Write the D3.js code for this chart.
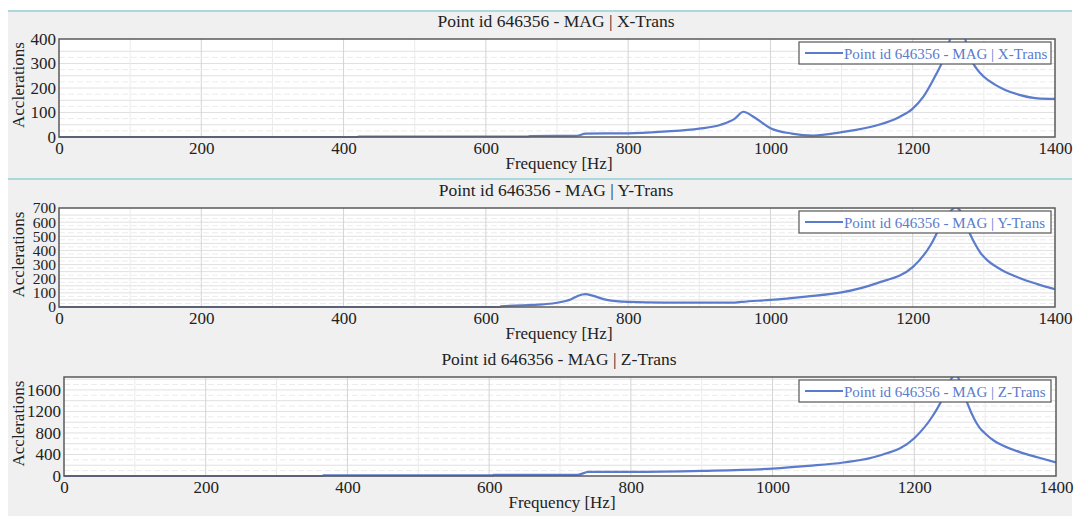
<!DOCTYPE html>
<html lang="en">
<head>
<meta charset="utf-8">
<title>Point id 646356 - MAG</title>
<style>
  body { margin: 0; background: #fff; }
  svg text { font-family: "Liberation Serif", "Times New Roman", serif; fill: #222; }
</style>
</head>
<body>
<script src="https://cdn.jsdelivr.net/npm/d3@7/dist/d3.min.js"></script>
<script>
// data
var xTransFreq = [0, 420, 421, 660, 661, 728, 740, 800, 850, 900, 930, 950, 962, 975, 1000, 1030, 1060, 1100, 1150, 1180, 1200, 1215, 1230, 1245, 1255, 1265, 1272, 1280, 1290, 1300, 1315, 1330, 1350, 1375, 1400];
var xTransVals = [0, 0, 2, 2, 4, 5, 14, 15, 22, 34, 50, 75, 103, 85, 36, 14, 6, 20, 48, 80, 116, 165, 240, 330, 420, 470, 420, 330, 278, 246, 215, 192, 172, 158, 156];

var yTransFreq = [0, 620, 621, 680, 700, 720, 730, 740, 750, 770, 800, 850, 950, 960, 1000, 1050, 1100, 1150, 1200, 1225, 1240, 1252, 1260, 1268, 1275, 1285, 1295, 1305, 1315, 1325, 1350, 1375, 1400];
var yTransVals = [0, 0, 4, 19, 30, 55, 80, 91, 80, 50, 36, 31, 31, 36, 50, 74, 103, 169, 282, 437, 580, 670, 705, 670, 580, 470, 385, 330, 292, 262, 205, 162, 126];

var zTransFreq = [0, 365, 366, 605, 606, 725, 740, 800, 900, 1000, 1050, 1100, 1150, 1200, 1225, 1240, 1250, 1258, 1266, 1275, 1285, 1292, 1300, 1312, 1325, 1350, 1375, 1400];
var zTransVals = [0, 0, 10, 10, 20, 22, 75, 75, 94, 138, 188, 251, 376, 702, 1097, 1442, 1750, 1900, 1700, 1348, 1050, 900, 790, 660, 568, 439, 345, 251];

var xTicks = [0, 200, 400, 600, 800, 1000, 1200, 1400];
var titles = ["Point id 646356 - MAG | X-Trans", "Point id 646356 - MAG | Y-Trans", "Point id 646356 - MAG | Z-Trans"];

var w = 1077, h = 516;
var lineColor = "#5b7bcc";

var panels = [
  {title: titles[0], freq: xTransFreq, vals: xTransVals, yMax: 400, yTicks: [0, 100, 200, 300, 400], gridStep: 50, tickFont: 17,
   left: 59, right: 1055, top: 39, bottom: 137},
  {title: titles[1], freq: yTransFreq, vals: yTransVals, yMax: 700, yTicks: [0, 100, 200, 300, 400, 500, 600, 700], gridStep: 50, tickFont: 15.5,
   left: 59, right: 1055, top: 208, bottom: 307},
  {title: titles[2], freq: zTransFreq, vals: zTransVals, yMax: 1840, yTicks: [0, 400, 800, 1200, 1600], gridStep: 200, tickFont: 17,
   left: 64, right: 1056, top: 377, bottom: 476}
];

var svg = d3.select("body").append("svg").attr("width", w).attr("height", h);

// background
svg.append("rect").attr("x", 8).attr("y", 11).attr("width", 1064).attr("height", h - 11).attr("fill", "#f0f0f0");
svg.append("rect").attr("x", 8).attr("y", 10).attr("width", 1064).attr("height", 2).attr("fill", "#a9d9dd");
svg.append("rect").attr("x", 8).attr("y", 178).attr("width", 1064).attr("height", 2).attr("fill", "#a9d9dd");

panels.forEach(function(p, i) {
  var x = d3.scaleLinear().domain([0, 1400]).range([p.left, p.right]);
  var y = d3.scaleLinear().domain([0, p.yMax]).range([p.bottom, p.top]);
  var g = svg.append("g").attr("id", "panel" + i);
  var cx = (p.left + p.right) / 2;

  // plot area
  g.append("rect").attr("x", p.left).attr("y", p.top)
    .attr("width", p.right - p.left).attr("height", p.bottom - p.top).attr("fill", "#fff");

  // horizontal grid
  var hg = d3.range(p.gridStep, p.yMax, p.gridStep);
  g.append("g").selectAll("line").data(hg).enter().append("line")
    .attr("x1", p.left).attr("x2", p.right)
    .attr("y1", function(d) { return y(d); }).attr("y2", function(d) { return y(d); })
    .attr("stroke", "#e0e0e0").attr("stroke-width", 1);
  g.append("g").selectAll("line").data(hg.map(function(d) { return d - p.gridStep / 2; })).enter().append("line")
    .attr("x1", p.left).attr("x2", p.right)
    .attr("y1", function(d) { return y(d); }).attr("y2", function(d) { return y(d); })
    .attr("stroke", "#ececec").attr("stroke-dasharray", "6,3");

  // vertical grid
  g.append("g").selectAll("line").data(d3.range(100, 1400, 100)).enter().append("line")
    .attr("x1", function(d) { return x(d); }).attr("x2", function(d) { return x(d); })
    .attr("y1", p.top).attr("y2", p.bottom)
    .attr("stroke", function(d) { return d % 200 == 0 ? "#d4d4d4" : "#ebebeb"; });

  // curve
  var clipId = "clip" + i;
  g.append("clipPath").attr("id", clipId).append("rect")
    .attr("x", p.left).attr("y", p.top).attr("width", p.right - p.left).attr("height", p.bottom - p.top + 2);
  var data = p.freq.map(function(f, k) { return [f, p.vals[k]]; });
  var line = d3.line().x(function(d) { return x(d[0]); }).y(function(d) { return y(d[1]); }).curve(d3.curveMonotoneX);
  g.append("path").datum(data).attr("d", line).attr("clip-path", "url(#" + clipId + ")")
    .attr("fill", "none").attr("stroke", lineColor).attr("stroke-width", 2.2);

  // frame
  g.append("rect").attr("x", p.left).attr("y", p.top)
    .attr("width", p.right - p.left).attr("height", p.bottom - p.top)
    .attr("fill", "none").attr("stroke", "#5a5a5a").attr("stroke-width", 1.5);

  // axes
  var xAxis = g.append("g").attr("transform", "translate(0," + p.bottom + ")")
    .call(d3.axisBottom(x).tickValues(xTicks).tickSize(0).tickPadding(5).tickFormat(d3.format("d")));
  xAxis.select(".domain").remove();
  xAxis.selectAll("text").attr("font-size", 17).attr("fill", "#222");

  var yAxis = g.append("g").attr("transform", "translate(" + p.left + ",0)")
    .call(d3.axisLeft(y).tickValues(p.yTicks).tickSize(0).tickPadding(3).tickFormat(d3.format("d")));
  yAxis.select(".domain").remove();
  yAxis.selectAll("text").attr("font-size", p.tickFont).attr("fill", "#222");

  // labels
  g.append("text").text(p.title).attr("x", cx - 1).attr("y", p.top - 12)
    .attr("text-anchor", "middle").attr("font-size", 17.5);
  g.append("text").text("Frequency [Hz]").attr("x", cx + 2).attr("y", p.bottom + 32)
    .attr("text-anchor", "middle").attr("font-size", 17);
  var my = (p.top + p.bottom) / 2 - 3;
  g.append("text").text("Acclerations").attr("x", 24).attr("y", my)
    .attr("transform", "rotate(-90,24," + my + ")")
    .attr("text-anchor", "middle").attr("font-size", 17);

  // legend
  var lg = g.append("g").attr("transform", "translate(799," + (p.top + 3) + ")");
  lg.append("rect").attr("width", 252).attr("height", 22)
    .attr("fill", "#fff").attr("stroke", "#555").attr("stroke-width", 1.2);
  lg.append("line").attr("x1", 6).attr("x2", 44).attr("y1", 11).attr("y2", 11)
    .attr("stroke", lineColor).attr("stroke-width", 2.2);
  lg.append("text").text(p.title).attr("x", 45).attr("y", 16.5)
    .attr("font-size", 15).style("fill", lineColor);
});
</script>
</body>
</html>
